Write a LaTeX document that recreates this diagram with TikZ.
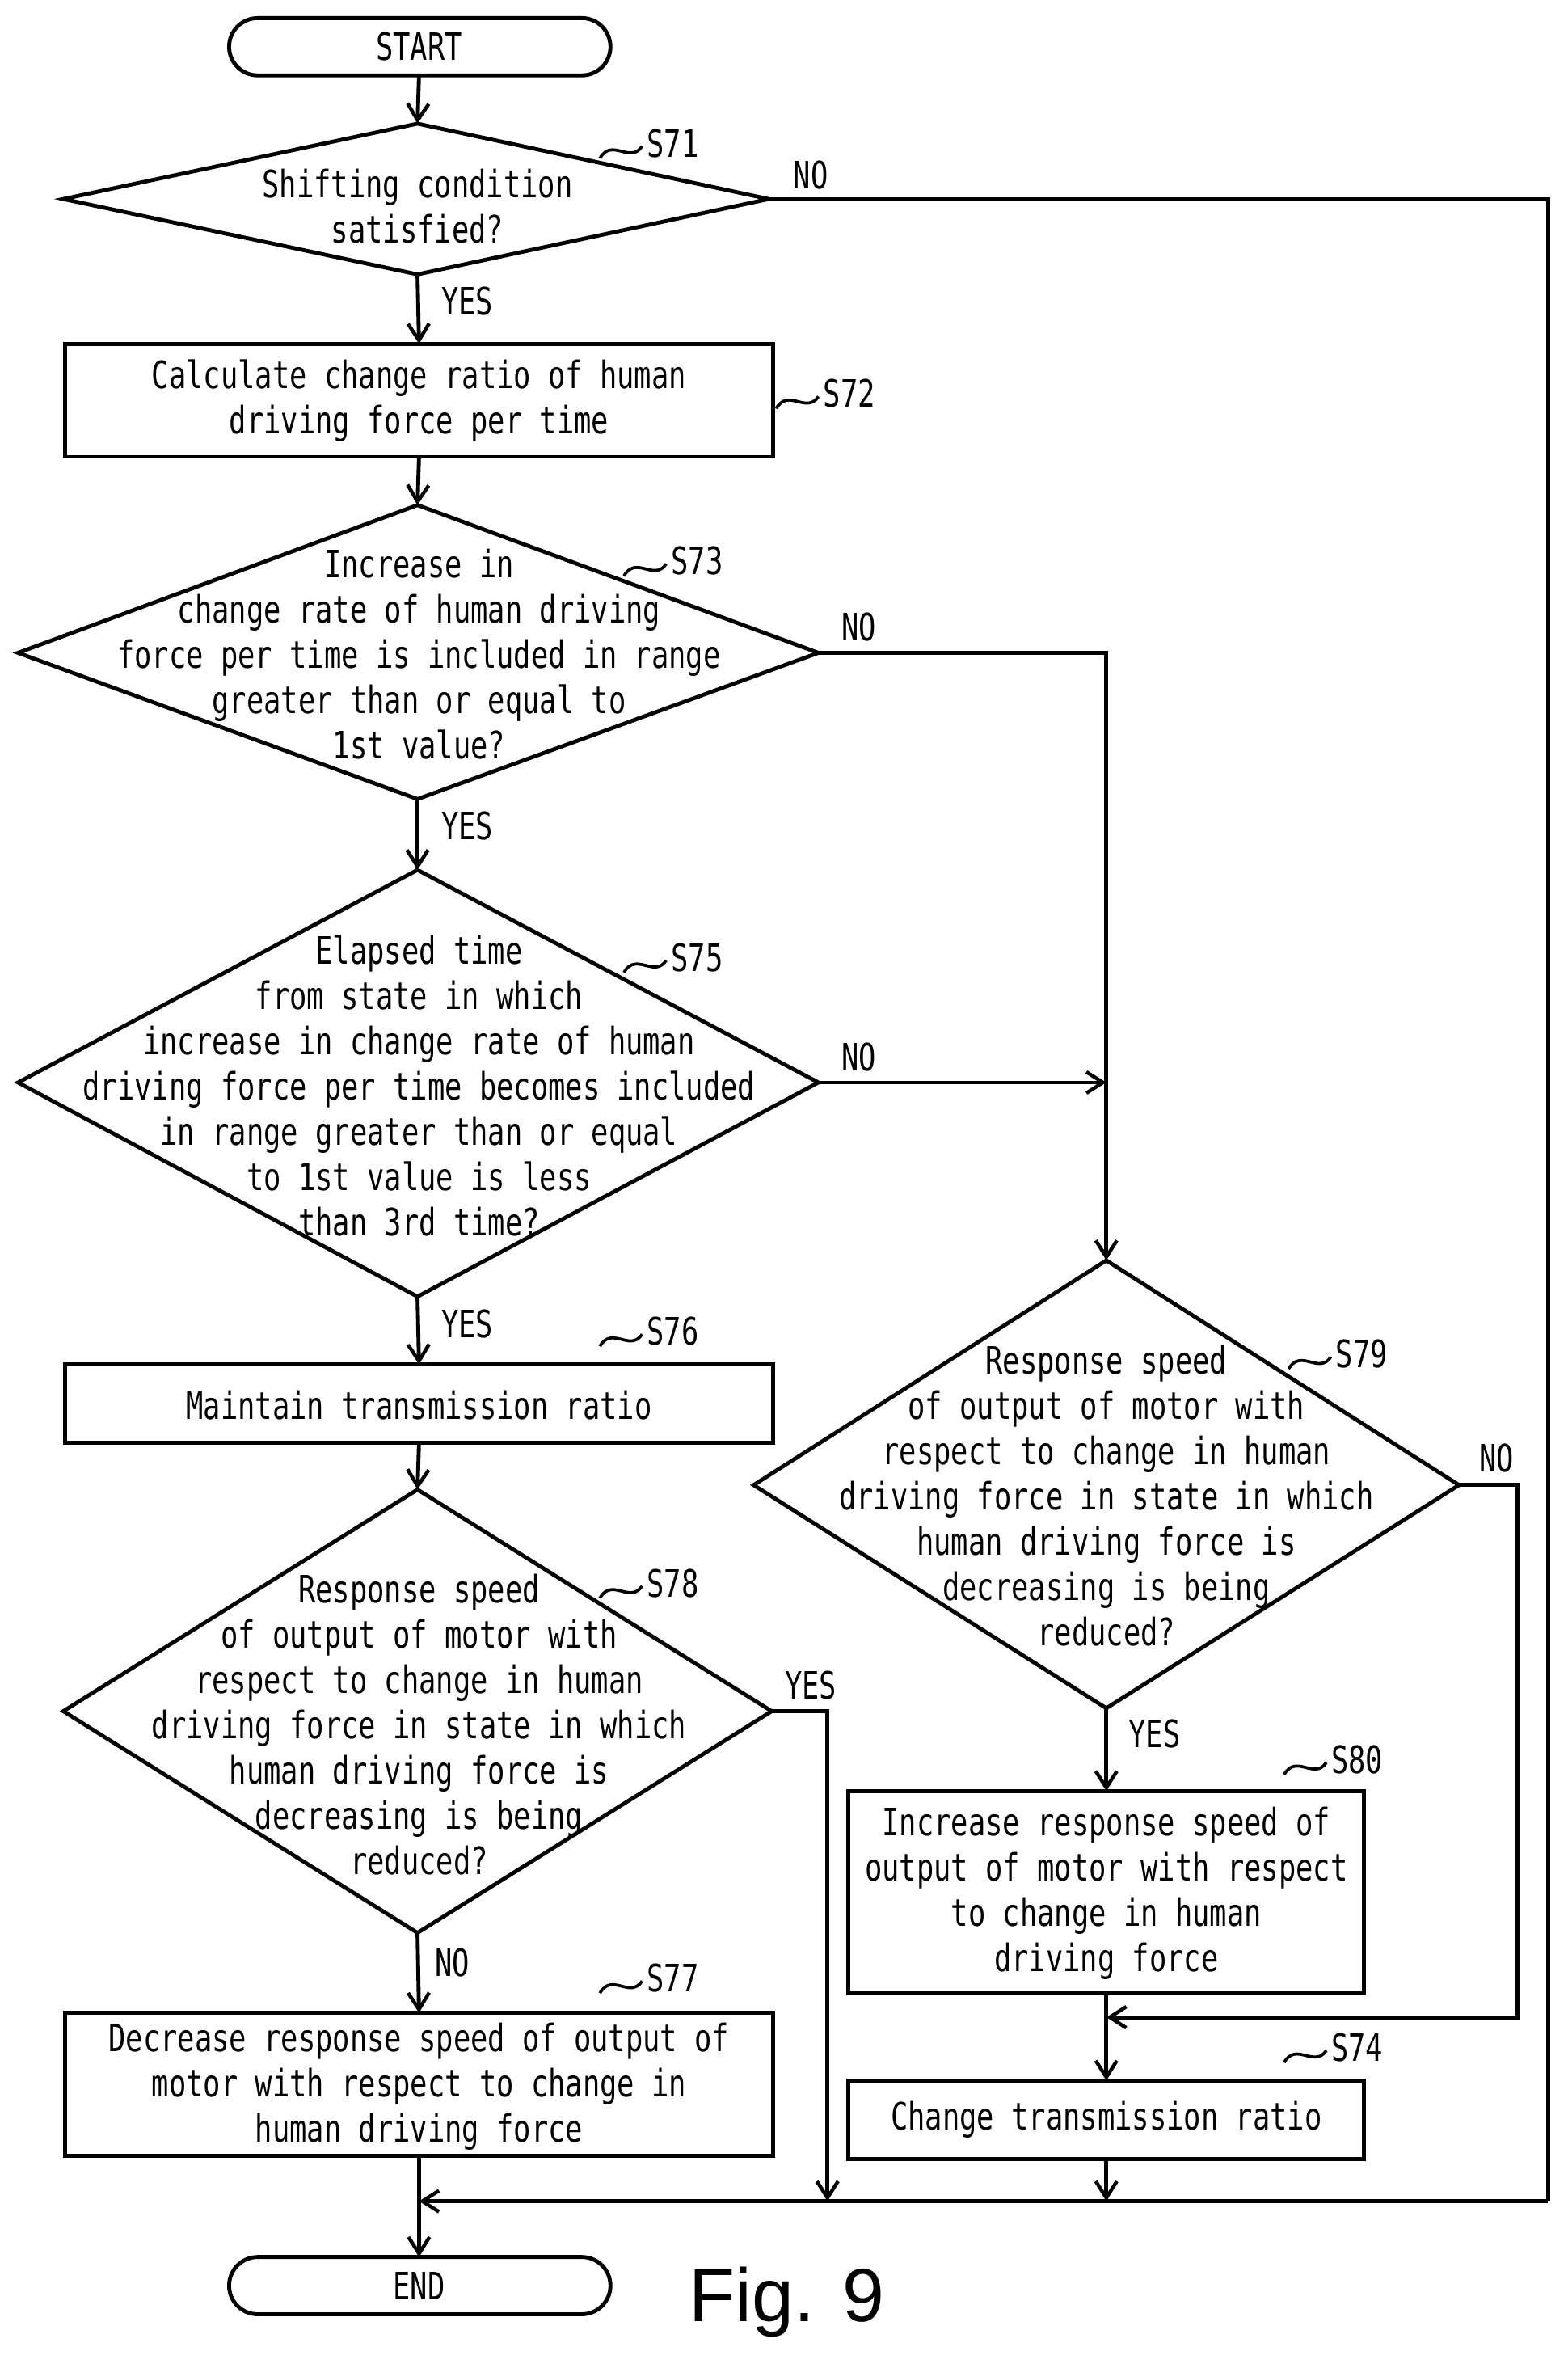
\documentclass[tikz,border=0pt]{standalone}
\usepackage{fontspec}
\setmainfont{DejaVu Sans Mono}[FakeStretch=0.76]
\newfontfamily\figfont{Liberation Sans}
\usetikzlibrary{arrows.meta}
\begin{document}
\begin{tikzpicture}[x=1pt,y=-1pt,line width=2.6pt,
 arr/.style={-{Straight Barb[length=11pt,width=14pt,line width=2.4pt]}},
 txt/.style={align=center,font=\fontsize{25}{30}\selectfont,inner sep=0pt},
 lab/.style={font=\fontsize{25}{30}\selectfont,inner sep=0pt},
 sq/.style={line width=2pt}]
\useasboundingbox (0,0) rectangle (1040,1568);
% START / END
\draw[rounded corners=19pt] (152,12) rectangle (405,50);
\node[lab] (start) at (278,31) {START};
\draw[rounded corners=19pt] (152,1497) rectangle (405,1535);
\node[lab] (end) at (278,1516) {END};
% S71
\coordinate (d1t) at (277,82); \coordinate (d1b) at (277,182); \coordinate (d1r) at (510,132);
\draw (42,132) -- (d1t) -- (d1r) -- (d1b) -- cycle;
\node[txt] (s71) at (277,137) {Shifting condition\\satisfied?};
% S72
\draw (43,228) rectangle (513,303);
\node[txt] (s72) at (278,266) {Calculate change ratio of human\\driving force per time};
% S73
\coordinate (d3t) at (277,335); \coordinate (d3b) at (277,530); \coordinate (d3r) at (543,433);
\draw (12,433) -- (d3t) -- (d3r) -- (d3b) -- cycle;
\node[txt] (s73) at (278,434) {Increase in\\change rate of human driving\\force per time is included in range\\greater than or equal to\\1st value?};
% S75
\coordinate (d5t) at (277,577); \coordinate (d5b) at (277,860); \coordinate (d5r) at (543,718);
\draw (12,718) -- (d5t) -- (d5r) -- (d5b) -- cycle;
\node[txt] (s75) at (278,720) {Elapsed time\\from state in which\\increase in change rate of human\\driving force per time becomes included\\in range greater than or equal\\to 1st value is less\\than 3rd time?};
% S76
\draw (43,905) rectangle (513,957);
\node[txt] (s76) at (278,932) {Maintain transmission ratio};
% S78
\coordinate (d8t) at (277,988); \coordinate (d8b) at (277,1282); \coordinate (d8r) at (512,1135);
\draw (42,1135) -- (d8t) -- (d8r) -- (d8b) -- cycle;
\node[txt] (s78) at (278,1144) {Response speed\\of output of motor with\\respect to change in human\\driving force in state in which\\human driving force is\\decreasing is being\\reduced?};
% S77
\draw (43,1335) rectangle (513,1430);
\node[txt] (s77) at (278,1384) {Decrease response speed of output of\\motor with respect to change in\\human driving force};
% S79
\coordinate (d9t) at (734,836); \coordinate (d9b) at (734,1133); \coordinate (d9r) at (968,985);
\draw (500,985) -- (d9t) -- (d9r) -- (d9b) -- cycle;
\node[txt] (s79) at (734,992) {Response speed\\of output of motor with\\respect to change in human\\driving force in state in which\\human driving force is\\decreasing is being\\reduced?};
% S80
\draw (563,1188) rectangle (905,1322);
\node[txt] (s80) at (734,1256) {Increase response speed of\\output of motor with respect\\to change in human\\driving force};
% S74
\draw (563,1380) rectangle (905,1432);
\node[txt] (s74) at (734,1406) {Change transmission ratio};
% main arrows
\draw[arr] (278,50) -- (d1t);
\draw[arr] (d1b) -- (278,228);
\draw[arr] (278,303) -- (d3t);
\draw[arr] (d3b) -- (d5t);
\draw[arr] (d5b) -- (278,905);
\draw[arr] (278,957) -- (d8t);
\draw[arr] (d8b) -- (278,1335);
\draw[arr] (278,1430) -- (278,1497);
% NO branches
\draw (d1r) -- (1027,132) -- (1027,1460);
\draw[arr] (1027,1460) -- (278,1460);
\draw[arr] (d3r) -- (734,433) -- (d9t);
\draw[arr] (d5r) -- (734,718);
\draw[arr] (d9b) -- (734,1188);
\draw[arr] (d9r) -- (1007,985) -- (1007,1338) -- (734,1338);
\draw[arr] (734,1322) -- (734,1380);
\draw[arr] (734,1432) -- (734,1460);
\draw[arr] (d8r) -- (549,1135) -- (549,1460);
% yes/no
\node[lab] (y1) at (310,200) {YES};
\node[lab] (n1) at (538,116) {NO};
\node[lab] (n3) at (570,416) {NO};
\node[lab] (y3) at (310,548) {YES};
\node[lab] (n5) at (570,701) {NO};
\node[lab] (y5) at (310,878) {YES};
\node[lab] (n9) at (993,967) {NO};
\node[lab] (y8) at (538,1118) {YES};
\node[lab] (y9) at (766,1150) {YES};
\node[lab] (n8) at (300,1302) {NO};
% step labels
\newcommand\stp[4]{\draw[sq] (#1,#2) .. controls +(8,-14) and +(-8,12) .. +(28,-8); \node[lab,anchor=west] at (#1+30,#2-10) {#3#4};}
\stp{398}{105}{S}{71}
\stp{515}{271}{S}{72}
\stp{414}{382}{S}{73}
\stp{414}{645}{S}{75}
\stp{398}{893}{S}{76}
\stp{398}{1060}{S}{78}
\stp{398}{1322}{S}{77}
\stp{855}{908}{S}{79}
\stp{852}{1177}{S}{80}
\stp{852}{1368}{S}{74}
\node[font=\figfont\fontsize{50}{60}\selectfont,inner sep=0pt] (fig) at (522,1527) {Fig. 9};
\end{tikzpicture}
\end{document}
